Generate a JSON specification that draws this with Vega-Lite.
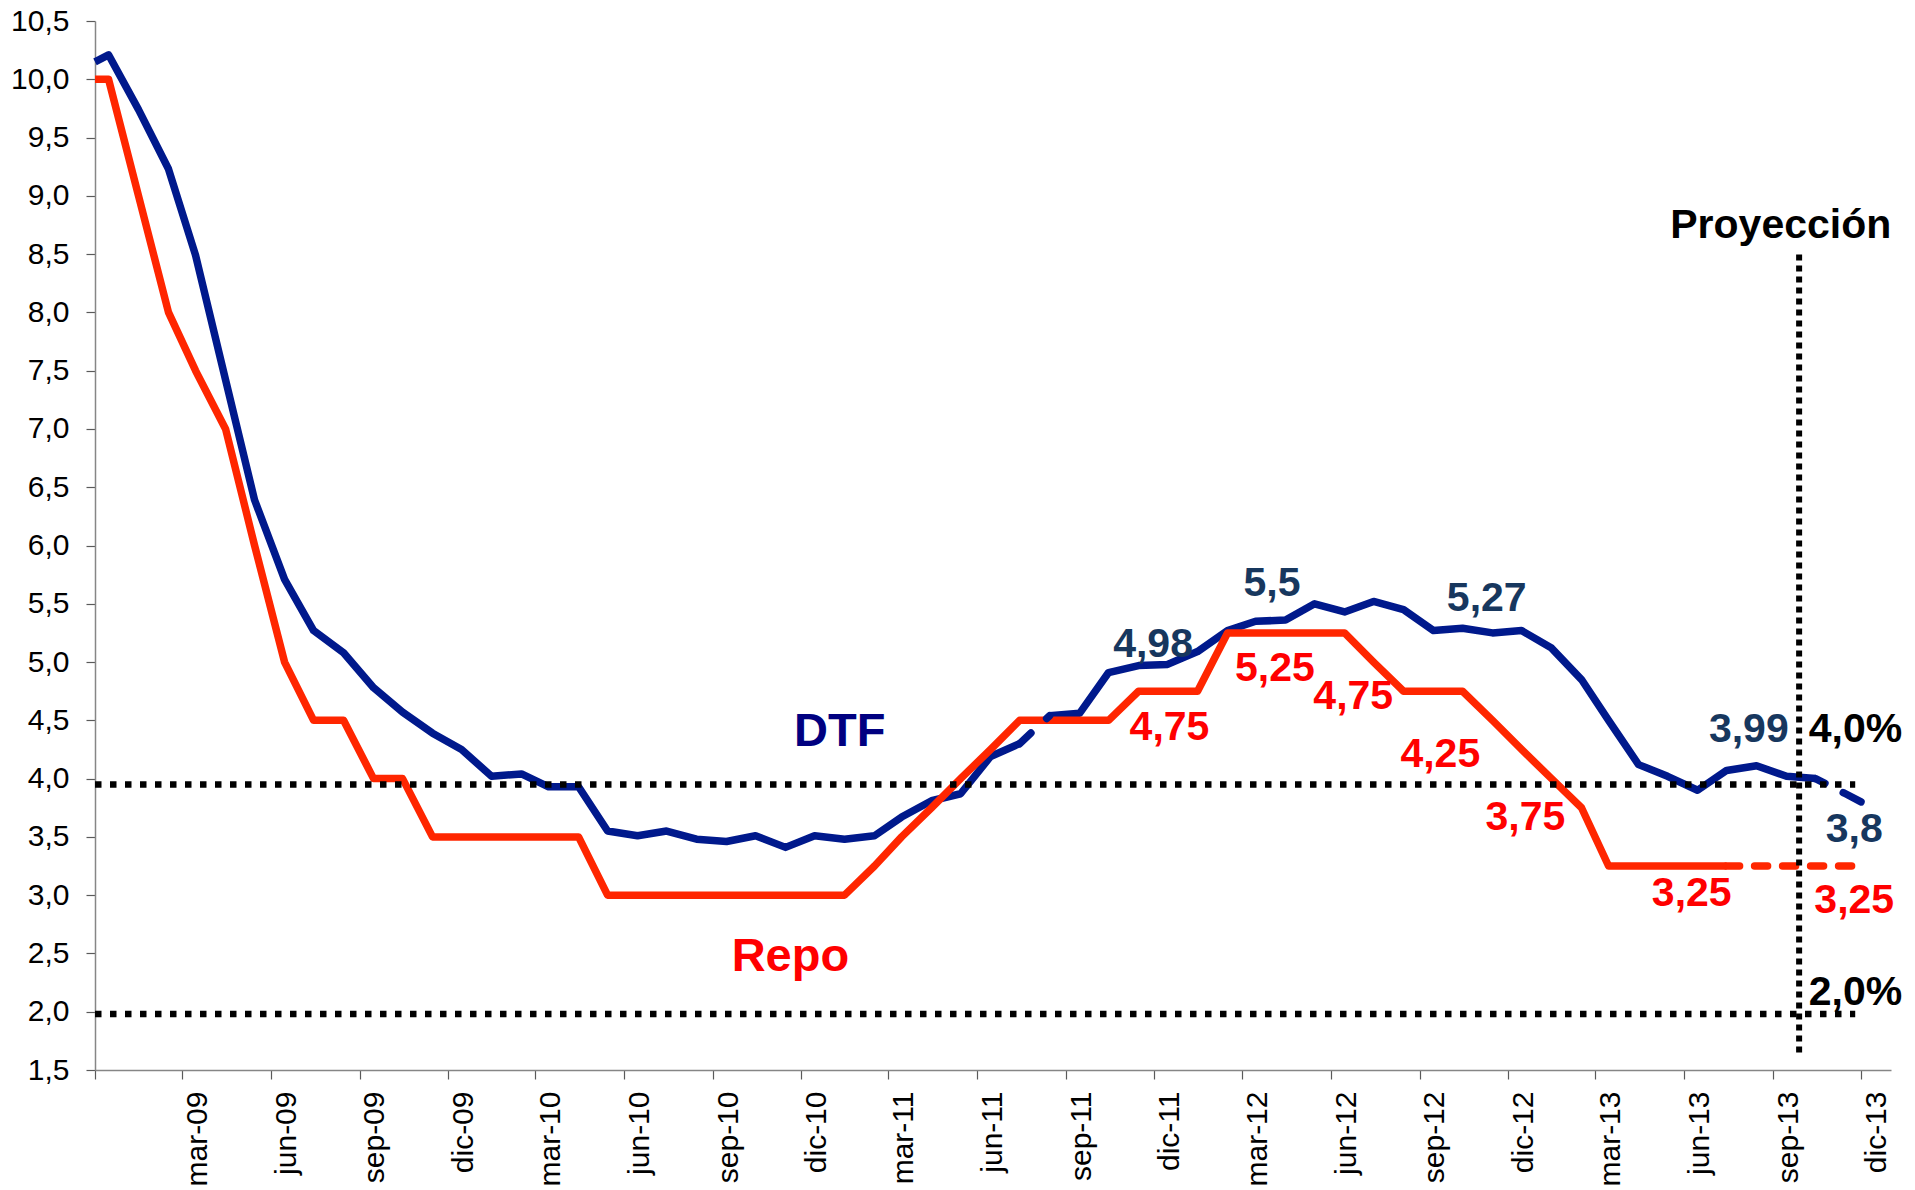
{
  "$schema": "https://vega.github.io/schema/vega-lite/v6.json",
  "autosize": {"type": "none"},
  "padding": {"left": 95, "top": 21, "right": 24, "bottom": 120},
  "width": 1796,
  "height": 1049,
  "background": "white",
  "config": {
    "font": "Liberation Sans",
    "view": {"stroke": null}
  },
  "datasets": {
    "rates": [
      {"date": "2008-12-01T00:00", "value": 10.15, "series": "DTF", "seg": "DTF-a"},
      {"date": "2008-12-15T00:00", "value": 10.21, "series": "DTF", "seg": "DTF-a"},
      {"date": "2009-01-15T00:00", "value": 9.74, "series": "DTF", "seg": "DTF-a"},
      {"date": "2009-02-15T00:00", "value": 9.23, "series": "DTF", "seg": "DTF-a"},
      {"date": "2009-03-15T00:00", "value": 8.49, "series": "DTF", "seg": "DTF-a"},
      {"date": "2009-04-15T00:00", "value": 7.42, "series": "DTF", "seg": "DTF-a"},
      {"date": "2009-05-15T00:00", "value": 6.39, "series": "DTF", "seg": "DTF-a"},
      {"date": "2009-06-15T00:00", "value": 5.71, "series": "DTF", "seg": "DTF-a"},
      {"date": "2009-07-15T00:00", "value": 5.27, "series": "DTF", "seg": "DTF-a"},
      {"date": "2009-08-15T00:00", "value": 5.08, "series": "DTF", "seg": "DTF-a"},
      {"date": "2009-09-15T00:00", "value": 4.78, "series": "DTF", "seg": "DTF-a"},
      {"date": "2009-10-15T00:00", "value": 4.57, "series": "DTF", "seg": "DTF-a"},
      {"date": "2009-11-15T00:00", "value": 4.39, "series": "DTF", "seg": "DTF-a"},
      {"date": "2009-12-15T00:00", "value": 4.25, "series": "DTF", "seg": "DTF-a"},
      {"date": "2010-01-15T00:00", "value": 4.02, "series": "DTF", "seg": "DTF-a"},
      {"date": "2010-02-15T00:00", "value": 4.04, "series": "DTF", "seg": "DTF-a"},
      {"date": "2010-03-15T00:00", "value": 3.93, "series": "DTF", "seg": "DTF-a"},
      {"date": "2010-04-15T00:00", "value": 3.93, "series": "DTF", "seg": "DTF-a"},
      {"date": "2010-05-15T00:00", "value": 3.55, "series": "DTF", "seg": "DTF-a"},
      {"date": "2010-06-15T00:00", "value": 3.51, "series": "DTF", "seg": "DTF-a"},
      {"date": "2010-07-15T00:00", "value": 3.55, "series": "DTF", "seg": "DTF-a"},
      {"date": "2010-08-15T00:00", "value": 3.48, "series": "DTF", "seg": "DTF-a"},
      {"date": "2010-09-15T00:00", "value": 3.46, "series": "DTF", "seg": "DTF-a"},
      {"date": "2010-10-15T00:00", "value": 3.51, "series": "DTF", "seg": "DTF-a"},
      {"date": "2010-11-15T00:00", "value": 3.41, "series": "DTF", "seg": "DTF-a"},
      {"date": "2010-12-15T00:00", "value": 3.51, "series": "DTF", "seg": "DTF-a"},
      {"date": "2011-01-15T00:00", "value": 3.48, "series": "DTF", "seg": "DTF-a"},
      {"date": "2011-02-15T00:00", "value": 3.51, "series": "DTF", "seg": "DTF-a"},
      {"date": "2011-03-15T00:00", "value": 3.67, "series": "DTF", "seg": "DTF-a"},
      {"date": "2011-04-15T00:00", "value": 3.81, "series": "DTF", "seg": "DTF-a"},
      {"date": "2011-05-15T00:00", "value": 3.87, "series": "DTF", "seg": "DTF-a"},
      {"date": "2011-06-15T00:00", "value": 4.19, "series": "DTF", "seg": "DTF-a"},
      {"date": "2011-07-15T00:00", "value": 4.30, "series": "DTF", "seg": "DTF-a"},
      {"date": "2011-07-15T00:00", "value": 4.30, "series": "DTF", "seg": "DTF-b"},
      {"date": "2011-08-15T00:00", "value": 4.54, "series": "DTF", "seg": "DTF-b"},
      {"date": "2011-08-15T00:00", "value": 4.54, "series": "DTF", "seg": "DTF-c"},
      {"date": "2011-09-15T00:00", "value": 4.56, "series": "DTF", "seg": "DTF-c"},
      {"date": "2011-10-15T00:00", "value": 4.91, "series": "DTF", "seg": "DTF-c"},
      {"date": "2011-11-15T00:00", "value": 4.97, "series": "DTF", "seg": "DTF-c"},
      {"date": "2011-12-15T00:00", "value": 4.98, "series": "DTF", "seg": "DTF-c"},
      {"date": "2012-01-15T00:00", "value": 5.09, "series": "DTF", "seg": "DTF-c"},
      {"date": "2012-02-15T00:00", "value": 5.27, "series": "DTF", "seg": "DTF-c"},
      {"date": "2012-03-15T00:00", "value": 5.35, "series": "DTF", "seg": "DTF-c"},
      {"date": "2012-04-15T00:00", "value": 5.36, "series": "DTF", "seg": "DTF-c"},
      {"date": "2012-05-15T00:00", "value": 5.50, "series": "DTF", "seg": "DTF-c"},
      {"date": "2012-06-15T00:00", "value": 5.43, "series": "DTF", "seg": "DTF-c"},
      {"date": "2012-07-15T00:00", "value": 5.52, "series": "DTF", "seg": "DTF-c"},
      {"date": "2012-08-15T00:00", "value": 5.45, "series": "DTF", "seg": "DTF-c"},
      {"date": "2012-09-15T00:00", "value": 5.27, "series": "DTF", "seg": "DTF-c"},
      {"date": "2012-10-15T00:00", "value": 5.29, "series": "DTF", "seg": "DTF-c"},
      {"date": "2012-11-15T00:00", "value": 5.25, "series": "DTF", "seg": "DTF-c"},
      {"date": "2012-12-15T00:00", "value": 5.27, "series": "DTF", "seg": "DTF-c"},
      {"date": "2013-01-15T00:00", "value": 5.12, "series": "DTF", "seg": "DTF-c"},
      {"date": "2013-02-15T00:00", "value": 4.85, "series": "DTF", "seg": "DTF-c"},
      {"date": "2013-03-15T00:00", "value": 4.50, "series": "DTF", "seg": "DTF-c"},
      {"date": "2013-04-15T00:00", "value": 4.12, "series": "DTF", "seg": "DTF-c"},
      {"date": "2013-05-15T00:00", "value": 4.02, "series": "DTF", "seg": "DTF-c"},
      {"date": "2013-06-15T00:00", "value": 3.90, "series": "DTF", "seg": "DTF-c"},
      {"date": "2013-07-15T00:00", "value": 4.07, "series": "DTF", "seg": "DTF-c"},
      {"date": "2013-08-15T00:00", "value": 4.11, "series": "DTF", "seg": "DTF-c"},
      {"date": "2013-09-15T00:00", "value": 4.02, "series": "DTF", "seg": "DTF-c"},
      {"date": "2013-10-15T00:00", "value": 4.00, "series": "DTF", "seg": "DTF-c"},
      {"date": "2013-10-15T00:00", "value": 4.00, "series": "DTF", "seg": "DTF-p"},
      {"date": "2013-11-15T00:00", "value": 3.87, "series": "DTF", "seg": "DTF-p"},
      {"date": "2013-12-01T00:00", "value": 3.80, "series": "DTF", "seg": "DTF-p"},

      {"date": "2008-12-01T00:00", "value": 10.0, "series": "Repo", "seg": "Repo-a"},
      {"date": "2008-12-15T00:00", "value": 10.0, "series": "Repo", "seg": "Repo-a"},
      {"date": "2009-01-15T00:00", "value": 9.0, "series": "Repo", "seg": "Repo-a"},
      {"date": "2009-02-15T00:00", "value": 8.0, "series": "Repo", "seg": "Repo-a"},
      {"date": "2009-03-15T00:00", "value": 7.5, "series": "Repo", "seg": "Repo-a"},
      {"date": "2009-04-15T00:00", "value": 7.0, "series": "Repo", "seg": "Repo-a"},
      {"date": "2009-05-15T00:00", "value": 6.0, "series": "Repo", "seg": "Repo-a"},
      {"date": "2009-06-15T00:00", "value": 5.0, "series": "Repo", "seg": "Repo-a"},
      {"date": "2009-07-15T00:00", "value": 4.5, "series": "Repo", "seg": "Repo-a"},
      {"date": "2009-08-15T00:00", "value": 4.5, "series": "Repo", "seg": "Repo-a"},
      {"date": "2009-09-15T00:00", "value": 4.0, "series": "Repo", "seg": "Repo-a"},
      {"date": "2009-10-15T00:00", "value": 4.0, "series": "Repo", "seg": "Repo-a"},
      {"date": "2009-11-15T00:00", "value": 3.5, "series": "Repo", "seg": "Repo-a"},
      {"date": "2009-12-15T00:00", "value": 3.5, "series": "Repo", "seg": "Repo-a"},
      {"date": "2010-01-15T00:00", "value": 3.5, "series": "Repo", "seg": "Repo-a"},
      {"date": "2010-02-15T00:00", "value": 3.5, "series": "Repo", "seg": "Repo-a"},
      {"date": "2010-03-15T00:00", "value": 3.5, "series": "Repo", "seg": "Repo-a"},
      {"date": "2010-04-15T00:00", "value": 3.5, "series": "Repo", "seg": "Repo-a"},
      {"date": "2010-05-15T00:00", "value": 3.0, "series": "Repo", "seg": "Repo-a"},
      {"date": "2010-06-15T00:00", "value": 3.0, "series": "Repo", "seg": "Repo-a"},
      {"date": "2010-07-15T00:00", "value": 3.0, "series": "Repo", "seg": "Repo-a"},
      {"date": "2010-08-15T00:00", "value": 3.0, "series": "Repo", "seg": "Repo-a"},
      {"date": "2010-09-15T00:00", "value": 3.0, "series": "Repo", "seg": "Repo-a"},
      {"date": "2010-10-15T00:00", "value": 3.0, "series": "Repo", "seg": "Repo-a"},
      {"date": "2010-11-15T00:00", "value": 3.0, "series": "Repo", "seg": "Repo-a"},
      {"date": "2010-12-15T00:00", "value": 3.0, "series": "Repo", "seg": "Repo-a"},
      {"date": "2011-01-15T00:00", "value": 3.0, "series": "Repo", "seg": "Repo-a"},
      {"date": "2011-02-15T00:00", "value": 3.25, "series": "Repo", "seg": "Repo-a"},
      {"date": "2011-03-15T00:00", "value": 3.5, "series": "Repo", "seg": "Repo-a"},
      {"date": "2011-04-15T00:00", "value": 3.75, "series": "Repo", "seg": "Repo-a"},
      {"date": "2011-05-15T00:00", "value": 4.0, "series": "Repo", "seg": "Repo-a"},
      {"date": "2011-06-15T00:00", "value": 4.25, "series": "Repo", "seg": "Repo-a"},
      {"date": "2011-07-15T00:00", "value": 4.5, "series": "Repo", "seg": "Repo-a"},
      {"date": "2011-08-15T00:00", "value": 4.5, "series": "Repo", "seg": "Repo-a"},
      {"date": "2011-09-15T00:00", "value": 4.5, "series": "Repo", "seg": "Repo-a"},
      {"date": "2011-10-15T00:00", "value": 4.5, "series": "Repo", "seg": "Repo-a"},
      {"date": "2011-11-15T00:00", "value": 4.75, "series": "Repo", "seg": "Repo-a"},
      {"date": "2011-12-15T00:00", "value": 4.75, "series": "Repo", "seg": "Repo-a"},
      {"date": "2012-01-15T00:00", "value": 4.75, "series": "Repo", "seg": "Repo-a"},
      {"date": "2012-02-15T00:00", "value": 5.25, "series": "Repo", "seg": "Repo-a"},
      {"date": "2012-03-15T00:00", "value": 5.25, "series": "Repo", "seg": "Repo-a"},
      {"date": "2012-04-15T00:00", "value": 5.25, "series": "Repo", "seg": "Repo-a"},
      {"date": "2012-05-15T00:00", "value": 5.25, "series": "Repo", "seg": "Repo-a"},
      {"date": "2012-06-15T00:00", "value": 5.25, "series": "Repo", "seg": "Repo-a"},
      {"date": "2012-07-15T00:00", "value": 5.0, "series": "Repo", "seg": "Repo-a"},
      {"date": "2012-08-15T00:00", "value": 4.75, "series": "Repo", "seg": "Repo-a"},
      {"date": "2012-09-15T00:00", "value": 4.75, "series": "Repo", "seg": "Repo-a"},
      {"date": "2012-10-15T00:00", "value": 4.75, "series": "Repo", "seg": "Repo-a"},
      {"date": "2012-11-15T00:00", "value": 4.5, "series": "Repo", "seg": "Repo-a"},
      {"date": "2012-12-15T00:00", "value": 4.25, "series": "Repo", "seg": "Repo-a"},
      {"date": "2013-01-15T00:00", "value": 4.0, "series": "Repo", "seg": "Repo-a"},
      {"date": "2013-02-15T00:00", "value": 3.75, "series": "Repo", "seg": "Repo-a"},
      {"date": "2013-03-15T00:00", "value": 3.25, "series": "Repo", "seg": "Repo-a"},
      {"date": "2013-04-15T00:00", "value": 3.25, "series": "Repo", "seg": "Repo-a"},
      {"date": "2013-05-15T00:00", "value": 3.25, "series": "Repo", "seg": "Repo-a"},
      {"date": "2013-06-15T00:00", "value": 3.25, "series": "Repo", "seg": "Repo-a"},
      {"date": "2013-07-15T00:00", "value": 3.25, "series": "Repo", "seg": "Repo-a"},
      {"date": "2013-07-15T00:00", "value": 3.25, "series": "Repo", "seg": "Repo-p"},
      {"date": "2013-08-15T00:00", "value": 3.25, "series": "Repo", "seg": "Repo-p"},
      {"date": "2013-09-15T00:00", "value": 3.25, "series": "Repo", "seg": "Repo-p"},
      {"date": "2013-10-15T00:00", "value": 3.25, "series": "Repo", "seg": "Repo-p"},
      {"date": "2013-11-15T00:00", "value": 3.25, "series": "Repo", "seg": "Repo-p"},
      {"date": "2013-12-01T00:00", "value": 3.25, "series": "Repo", "seg": "Repo-p"}
    ],
    "levels": [
      {"start": "2008-12-01T00:00", "end": "2013-11-25T00:00", "level": 3.95},
      {"start": "2008-12-01T00:00", "end": "2013-11-25T00:00", "level": 1.98}
    ],
    "cut": [
      {"date": "2013-09-28T00:00", "low": 1.65, "high": 8.51}
    ],
    "notes": [
      {"label": "4,98", "date": "2011-11-30T00:00", "value": 5.04, "group": "dtfval"},
      {"label": "5,5", "date": "2012-04-01T00:00", "value": 5.57, "group": "dtfval"},
      {"label": "5,27", "date": "2012-11-09T00:00", "value": 5.44, "group": "dtfval"},
      {"label": "3,99", "date": "2013-08-07T00:00", "value": 4.31, "group": "dtfval"},
      {"label": "3,8", "date": "2013-11-24T00:00", "value": 3.46, "group": "dtfval"},
      {"label": "5,25", "date": "2012-04-04T00:00", "value": 4.84, "group": "repoval"},
      {"label": "4,75", "date": "2011-12-17T00:00", "value": 4.33, "group": "repoval"},
      {"label": "4,75", "date": "2012-06-24T00:00", "value": 4.6, "group": "repoval"},
      {"label": "4,25", "date": "2012-09-22T00:00", "value": 4.1, "group": "repoval"},
      {"label": "3,75", "date": "2012-12-19T00:00", "value": 3.56, "group": "repoval"},
      {"label": "3,25", "date": "2013-06-09T00:00", "value": 2.91, "group": "repoval"},
      {"label": "3,25", "date": "2013-11-24T00:00", "value": 2.85, "group": "repoval"},
      {"label": "4,0%", "date": "2013-10-08T00:00", "value": 4.31, "group": "target"},
      {"label": "2,0%", "date": "2013-10-08T00:00", "value": 2.06, "group": "target"},
      {"label": "Proyección", "date": "2013-09-09T00:00", "value": 8.64, "group": "title"},
      {"label": "DTF", "date": "2011-01-10T00:00", "value": 4.28, "group": "dtfname"},
      {"label": "Repo", "date": "2010-11-20T00:00", "value": 2.35, "group": "reponame"}
    ]
  },
  "encoding": {
    "x": {
      "field": "date",
      "type": "temporal",
      "scale": {
        "domain": [
          {"year": 2008, "month": 12, "date": 1},
          {"year": 2014, "month": 1, "date": 1}
        ]
      },
      "axis": {
        "title": null,
        "grid": false,
        "values": [
          {"year": 2008, "month": 12, "date": 1},
          {"year": 2009, "month": 3, "date": 1},
          {"year": 2009, "month": 6, "date": 1},
          {"year": 2009, "month": 9, "date": 1},
          {"year": 2009, "month": 12, "date": 1},
          {"year": 2010, "month": 3, "date": 1},
          {"year": 2010, "month": 6, "date": 1},
          {"year": 2010, "month": 9, "date": 1},
          {"year": 2010, "month": 12, "date": 1},
          {"year": 2011, "month": 3, "date": 1},
          {"year": 2011, "month": 6, "date": 1},
          {"year": 2011, "month": 9, "date": 1},
          {"year": 2011, "month": 12, "date": 1},
          {"year": 2012, "month": 3, "date": 1},
          {"year": 2012, "month": 6, "date": 1},
          {"year": 2012, "month": 9, "date": 1},
          {"year": 2012, "month": 12, "date": 1},
          {"year": 2013, "month": 3, "date": 1},
          {"year": 2013, "month": 6, "date": 1},
          {"year": 2013, "month": 9, "date": 1},
          {"year": 2013, "month": 12, "date": 1}
        ],
        "labelExpr": "year(datum.value) < 2009 ? '' : ['ene','feb','mar','abr','may','jun','jul','ago','sep','oct','nov','dic'][month(datum.value)] + '-' + timeFormat(datum.value, '%y')",
        "labelAngle": 270,
        "labelAlign": "right",
        "labelBaseline": "middle",
        "labelOffset": 15,
        "labelPadding": 12,
        "labelFontSize": 30,
        "labelColor": "#000000",
        "labelOverlap": false,
        "labelFlush": false,
        "labelBound": false,
        "tickSize": 9,
        "tickColor": "#5a5a5a",
        "tickWidth": 1.2,
        "domainColor": "#868686",
        "domainWidth": 1.5
      }
    },
    "y": {
      "type": "quantitative",
      "scale": {"domain": [1.5, 10.5], "nice": false, "zero": false},
      "axis": {
        "title": null,
        "grid": false,
        "values": [1.5, 2, 2.5, 3, 3.5, 4, 4.5, 5, 5.5, 6, 6.5, 7, 7.5, 8, 8.5, 9, 9.5, 10, 10.5],
        "labelExpr": "replace(format(datum.value, '.1f'), '.', ',')",
        "labelFontSize": 30,
        "labelColor": "#000000",
        "labelPadding": 17,
        "labelOverlap": false,
        "labelFlush": false,
        "labelBound": false,
        "tickSize": 9,
        "tickColor": "#5a5a5a",
        "tickWidth": 1.2,
        "domainColor": "#868686",
        "domainWidth": 1.5
      }
    }
  },
  "layer": [
    {
      "data": {"name": "rates"},
      "transform": [{"filter": "datum.seg == 'DTF-a' || datum.seg == 'DTF-c' || datum.seg == 'Repo-a'"}],
      "mark": {"type": "line", "strokeWidth": 7.5, "strokeJoin": "round"},
      "encoding": {
        "y": {"field": "value", "type": "quantitative"},
        "color": {
          "field": "series",
          "type": "nominal",
          "scale": {"domain": ["DTF", "Repo"], "range": ["#00198C", "#FF2600"]},
          "legend": null
        },
        "detail": {"field": "seg", "type": "nominal"}
      }
    },
    {
      "data": {"name": "rates"},
      "transform": [{"filter": "datum.seg == 'Repo-p'"}],
      "mark": {"type": "line", "strokeWidth": 7.5, "color": "#FF2600", "strokeCap": "round", "strokeDash": [13, 15]},
      "encoding": {"y": {"field": "value", "type": "quantitative"}}
    },
    {
      "data": {"name": "rates"},
      "transform": [{"filter": "datum.seg == 'DTF-p'"}],
      "mark": {"type": "line", "strokeWidth": 7.5, "color": "#00198C", "strokeCap": "round", "strokeDash": [10.5, 20.5, 60, 10]},
      "encoding": {"y": {"field": "value", "type": "quantitative"}}
    },
    {
      "data": {"name": "rates"},
      "transform": [{"filter": "datum.seg == 'DTF-b'"}],
      "mark": {"type": "line", "strokeWidth": 7.5, "color": "#00198C", "strokeCap": "round", "strokeDash": [15.5, 21.5, 60, 10]},
      "encoding": {"y": {"field": "value", "type": "quantitative"}}
    },
    {
      "data": {"name": "levels"},
      "mark": {"type": "rule", "color": "#000000", "strokeWidth": 6.5, "strokeDash": [6.5, 8.5]},
      "encoding": {
        "x": {"field": "start", "type": "temporal"},
        "x2": {"field": "end"},
        "y": {"field": "level", "type": "quantitative"}
      }
    },
    {
      "data": {"name": "cut"},
      "mark": {"type": "rule", "color": "#000000", "strokeWidth": 6, "strokeDash": [6, 5]},
      "encoding": {
        "y": {"field": "low", "type": "quantitative"},
        "y2": {"field": "high"}
      }
    },
    {
      "data": {"name": "notes"},
      "transform": [{"filter": "datum.group == 'dtfval'"}],
      "mark": {"type": "text", "fontSize": 41, "fontWeight": "bold", "color": "#17375E", "align": "center", "baseline": "alphabetic"},
      "encoding": {
        "y": {"field": "value", "type": "quantitative"},
        "text": {"field": "label"}
      }
    },
    {
      "data": {"name": "notes"},
      "transform": [{"filter": "datum.group == 'repoval'"}],
      "mark": {"type": "text", "fontSize": 41, "fontWeight": "bold", "color": "#FF0000", "align": "center", "baseline": "alphabetic"},
      "encoding": {
        "y": {"field": "value", "type": "quantitative"},
        "text": {"field": "label"}
      }
    },
    {
      "data": {"name": "notes"},
      "transform": [{"filter": "datum.group == 'target'"}],
      "mark": {"type": "text", "fontSize": 41, "fontWeight": "bold", "color": "#000000", "align": "left", "baseline": "alphabetic"},
      "encoding": {
        "y": {"field": "value", "type": "quantitative"},
        "text": {"field": "label"}
      }
    },
    {
      "data": {"name": "notes"},
      "transform": [{"filter": "datum.group == 'title'"}],
      "mark": {"type": "text", "fontSize": 41, "fontWeight": "bold", "color": "#000000", "align": "center", "baseline": "alphabetic"},
      "encoding": {
        "y": {"field": "value", "type": "quantitative"},
        "text": {"field": "label"}
      }
    },
    {
      "data": {"name": "notes"},
      "transform": [{"filter": "datum.group == 'dtfname'"}],
      "mark": {"type": "text", "fontSize": 47, "fontWeight": "bold", "color": "#000080", "align": "center", "baseline": "alphabetic"},
      "encoding": {
        "y": {"field": "value", "type": "quantitative"},
        "text": {"field": "label"}
      }
    },
    {
      "data": {"name": "notes"},
      "transform": [{"filter": "datum.group == 'reponame'"}],
      "mark": {"type": "text", "fontSize": 47, "fontWeight": "bold", "color": "#FF0000", "align": "center", "baseline": "alphabetic"},
      "encoding": {
        "y": {"field": "value", "type": "quantitative"},
        "text": {"field": "label"}
      }
    }
  ]
}
